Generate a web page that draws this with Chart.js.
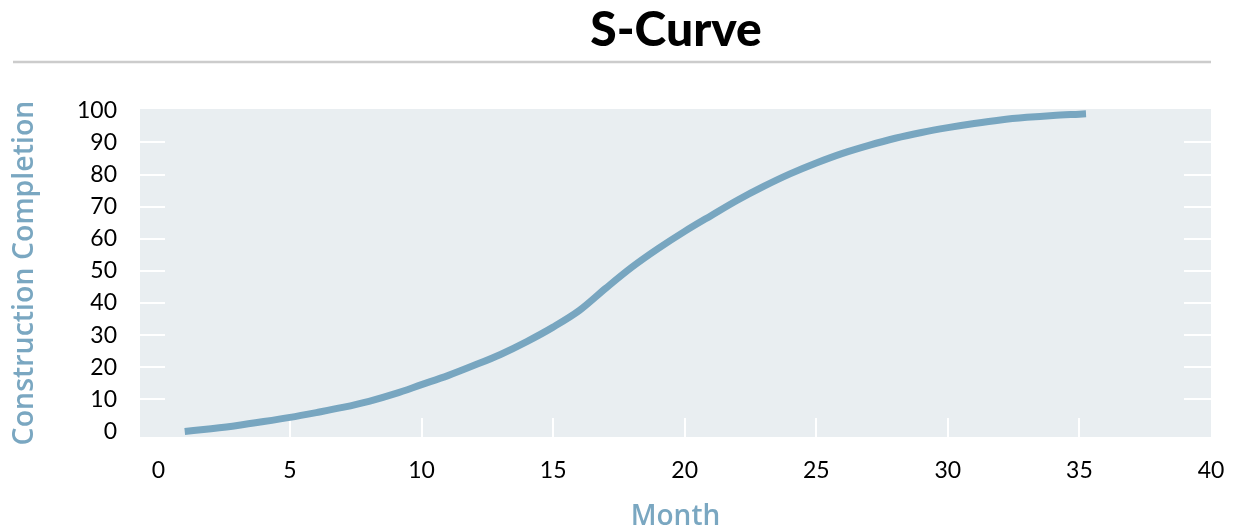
<!DOCTYPE html>
<html>
<head>
<meta charset="utf-8">
<title>S-Curve</title>
<script src="https://cdn.jsdelivr.net/npm/chart.js@4.4.1/dist/chart.umd.min.js"></script>
<style>
  html, body { margin: 0; padding: 0; background: #ffffff; }
  #wrap { width: 1233px; height: 531px; position: relative; }
</style>
</head>
<body>
<div id="wrap"><canvas id="chart"></canvas></div>
<script>
// Project schedule: cumulative construction completion (%) by month
const months = [1, 2, 3, 4, 5, 6, 7, 8, 9, 10, 11, 12, 13, 14, 15, 16, 17, 18,
  19, 20, 21, 22, 23, 24, 25, 26, 27, 28, 29, 30, 31, 32, 33, 34, 35, 35.25];
const completion = [0, 0.9, 1.9, 3.1, 4.4, 5.9, 7.5, 9.4, 11.8, 14.6, 17.4, 20.6,
  24.0, 28.0, 32.5, 37.7, 44.6, 51.2, 57.0, 62.3, 67.2, 72.0, 76.3, 80.2, 83.6,
  86.6, 89.1, 91.3, 93.1, 94.6, 95.9, 97.0, 97.8, 98.4, 98.8, 98.9];
const xTickValues = [0, 5, 10, 15, 20, 25, 30, 35, 40];
const yTickValues = [0, 10, 20, 30, 40, 50, 60, 70, 80, 90, 100];

const chartTitle = 'S-Curve';
const xTitle = 'Month';
const yTitle = 'Construction Completion';

const LINE_COLOR = '#78a6c0';
const TITLE_BLUE = '#7aa7c1';
const PANEL_BG = '#e9eef1';

// Title, divider rule, shaded panel and short white tick marks
const decorations = {
  id: 'decorations',
  beforeDatasetsDraw(chart) {
    const { ctx, chartArea: a, scales } = chart;
    ctx.save();
    ctx.fillStyle = PANEL_BG;
    ctx.fillRect(a.left, a.top, a.right - a.left, a.bottom - a.top);

    ctx.strokeStyle = '#ffffff';
    ctx.lineWidth = 2;
    ctx.beginPath();
    yTickValues.slice(1, -1).forEach(v => {
      const y = Math.round(scales.y.getPixelForValue(v));
      ctx.moveTo(a.left, y); ctx.lineTo(a.left + 25, y);
      ctx.moveTo(a.right - 27, y); ctx.lineTo(a.right, y);
    });
    xTickValues.slice(1, -1).forEach(v => {
      const x = Math.round(scales.x.getPixelForValue(v));
      ctx.moveTo(x, a.bottom); ctx.lineTo(x, a.bottom - 19);
    });
    ctx.stroke();
    ctx.restore();
  },
  afterDraw(chart) {
    const { ctx } = chart;
    ctx.save();
    ctx.fillStyle = '#000000';
    ctx.font = '900 48px Lato';
    ctx.textAlign = 'center';
    ctx.textBaseline = 'middle';
    ctx.fillText(chartTitle, 676, 31);

    ctx.strokeStyle = '#cccccc';
    ctx.lineWidth = 2.5;
    ctx.beginPath();
    ctx.moveTo(13, 62);
    ctx.lineTo(1211, 62);
    ctx.stroke();
    ctx.restore();
  }
};

new Chart(document.getElementById('chart'), {
  type: 'line',
  data: {
    datasets: [{
      label: yTitle,
      data: months.map((m, i) => ({ x: m, y: completion[i] })),
      borderColor: LINE_COLOR,
      borderWidth: 7,
      borderCapStyle: 'butt',
      pointRadius: 0,
      fill: false,
      cubicInterpolationMode: 'monotone'
    }]
  },
  options: {
    responsive: true,
    maintainAspectRatio: false,
    animation: false,
    layout: { padding: { left: 0, right: 22, top: 109, bottom: 0 } },
    plugins: {
      legend: { display: false },
      title: { display: false },
      tooltip: { enabled: false }
    },
    scales: {
      x: {
        type: 'linear',
        min: -0.7,
        max: 40,
        afterBuildTicks(scale) { scale.ticks = xTickValues.map(v => ({ value: v })); },
        afterFit(scale) {
          scale.height = 94;
          scale.paddingLeft = 0;
          scale.paddingRight = 0;
        },
        grid: { display: false, drawTicks: false },
        border: { display: false },
        ticks: {
          padding: 20,
          color: '#000000',
          font: { family: 'Lato', size: 23 },
          maxRotation: 0
        },
        title: {
          display: true,
          text: xTitle,
          color: TITLE_BLUE,
          font: { family: 'Open Sans', size: 28, weight: 600, lineHeight: 1 },
          padding: { top: 0, bottom: 0 }
        }
      },
      y: {
        type: 'linear',
        min: -1.7,
        max: 100.4,
        afterBuildTicks(scale) { scale.ticks = yTickValues.map(v => ({ value: v })); },
        afterFit(scale) {
          scale.width = 140;
          scale.paddingTop = 0;
          scale.paddingBottom = 0;
        },
        grid: { display: false, drawTicks: false },
        border: { display: false },
        ticks: {
          padding: 23,
          color: '#000000',
          font: { family: 'Lato', size: 23 }
        },
        title: {
          display: true,
          text: yTitle,
          color: TITLE_BLUE,
          font: { family: 'Open Sans', size: 28.5, weight: 600, lineHeight: 1 },
          padding: { top: 11, bottom: 0 }
        }
      }
    }
  },
  plugins: [decorations]
});
</script>
</body>
</html>
